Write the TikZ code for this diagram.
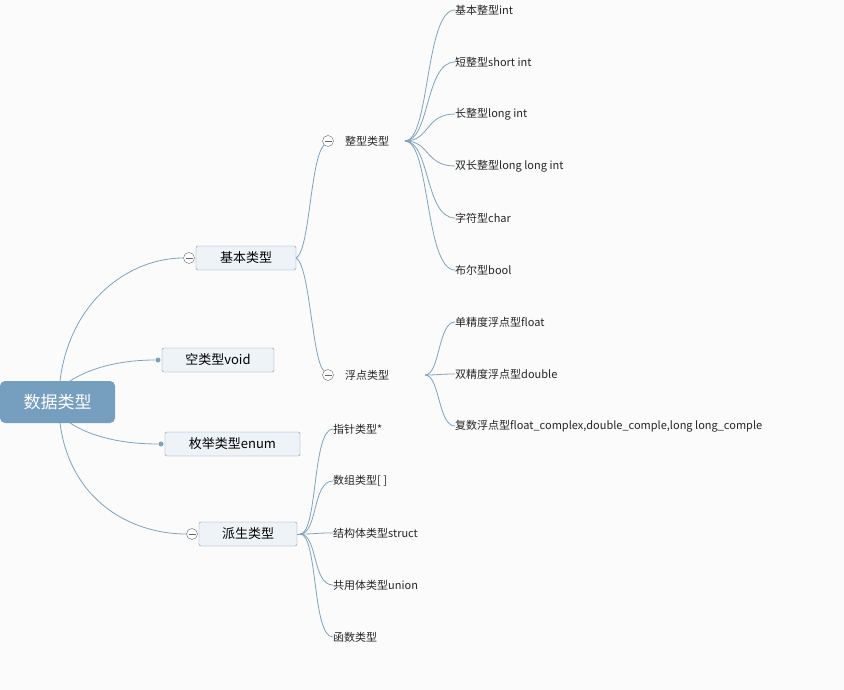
\documentclass[tikz,border=0pt]{standalone}
\usepackage{fontspec}
\setmainfont{Noto Sans CJK SC}
\begin{document}
\begin{tikzpicture}[x=1pt,y=-1pt,
  ln/.style={draw=lineblue,line width=0.8pt},
  sub/.style={draw=boxborder,fill=boxfill,rounded corners=2pt,minimum height=24pt,font=\fontsize{13}{15}\selectfont,inner sep=0pt},
  leaf/.style={anchor=west,font=\fontsize{11}{13}\selectfont,inner sep=0pt,text=black!85},
  col/.style={circle,draw=gray!80!black,fill=white,minimum size=11pt,inner sep=0pt},
  dotn/.style={circle,fill=lineblue,minimum size=5pt,inner sep=0pt}]
\definecolor{lineblue}{HTML}{7FA3BD}
\definecolor{boxborder}{HTML}{7A9AB5}
\definecolor{boxfill}{HTML}{EEF3F7}
\definecolor{rootfill}{HTML}{769EBE}
\definecolor{bg}{HTML}{FBFBFB}
\fill[bg] (0,0) rectangle (844,690);
\useasboundingbox (0,0) rectangle (844,690);
\node[fill=rootfill,rounded corners=5pt,minimum width=115pt,minimum height=42pt,text=white,font=\fontsize{17}{19}\selectfont,inner sep=0pt] (root) at (57.5,402) {数据类型};
\node[sub,minimum width=100pt] (jb) at (246,258) {基本类型};
\node[sub,minimum width=112pt] (void) at (218,360) {空类型void};
\node[sub,minimum width=135pt] (enum) at (232.5,444) {枚举类型enum};
\node[sub,minimum width=98pt] (ps) at (248,534) {派生类型};
\node[col] (c1) at (189,258) {}; \draw[gray!80!black] (185.5,258)--(192.5,258);
\node[col] (c4) at (192,534) {}; \draw[gray!80!black] (188.5,534)--(195.5,534);
\node[dotn] (d2) at (158,360) {};
\node[dotn] (d3) at (161,444) {};
\draw[ln] (60,381) .. controls (70,300) and (130,258) .. (c1.west);
\draw[ln] (70,381) .. controls (90,368) and (120,360) .. (d2);
\draw[ln] (70,423) .. controls (90,436) and (120,444) .. (d3);
\draw[ln] (60,423) .. controls (70,500) and (130,534) .. (c4.west);
% level 2
\node[col] (c2) at (328,141) {}; \draw[gray!80!black] (324.5,141)--(331.5,141);
\node[col] (c3) at (328,375) {}; \draw[gray!80!black] (324.5,375)--(331.5,375);
\node[leaf] (zx) at (345,141) {整型类型};
\node[leaf] (fd) at (345,375) {浮点类型};
\draw[ln] (jb.east) .. controls (310,250) and (310,160) .. (c2.south west);
\draw[ln] (jb.east) .. controls (310,266) and (312,360) .. (c3.north west);
\coordinate (j1) at (405,141);
\coordinate (j2) at (425,375);
\coordinate (j3) at (300,534);
\foreach \t [count=\i] in {基本整型int,短整型short int,长整型long int,双长整型long long int,字符型char,布尔型bool}{
  \node[leaf] (a\i) at (455,{10+52*(\i-1)}) {\t};
  \draw[ln] (j1) .. controls (430,141) and (425,{10+52*(\i-1)}) .. (a\i.west);
}
\foreach \t [count=\i] in {单精度浮点型float,双精度浮点型double,{复数浮点型float\_complex,double\_comple,long long\_comple}}{
  \node[leaf] (b\i) at (455,{322+52*(\i-1)}) {\t};
  \draw[ln] (j2) .. controls (440,375) and (438,{322+52*(\i-1)}) .. (b\i.west);
}
\foreach \t [count=\i] in {指针类型*,数组类型[ ],结构体类型struct,共用体类型union,函数类型}{
  \node[leaf] (p\i) at (333,{429+52*(\i-1)}) {\t};
  \draw[ln] (j3) .. controls (318,534) and (312,{429+52*(\i-1)}) .. (p\i.west);
}
\draw[ln] (ps.east) -- (j3);
\end{tikzpicture}
\end{document}
